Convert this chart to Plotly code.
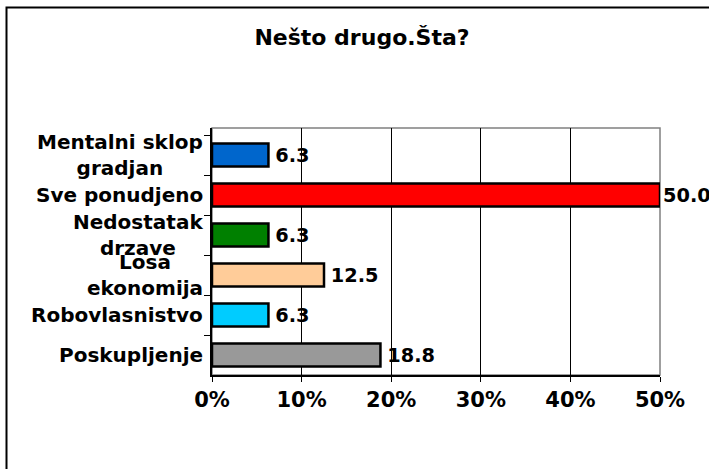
import plotly.graph_objects as go

categories = ["Mentalni sklop<br>gradjan", "Sve ponudjeno", "Nedostatak<br>drzave",
              "Losa<br>ekonomija", "Robovlasnistvo", "Poskupljenje"]
values = [6.3, 50.0, 6.3, 12.5, 6.3, 18.8]
colors = ["#0066CC", "#FF0000", "#008000", "#FFCC99", "#00CCFF", "#999999"]
tick_vals = [0, 10, 20, 30, 40, 50]
tick_text = [f"{t}%" for t in tick_vals]

FONT = "DejaVu Sans"

fig = go.Figure(go.Bar(
    x=values,
    y=categories,
    orientation="h",
    marker=dict(color=colors, line=dict(color="black", width=2.5)),
    text=[f"\u2009{v:.1f}" if v < max(values) else f"{v:.1f}" for v in values],
    textposition="outside",
    textfont=dict(family=FONT, size=20, color="black", weight="bold"),
    cliponaxis=False,
))

# layout in pixels -> paper fractions
W, H = 709, 469
L, R, T, B = 212, 49, 128, 94
pw, ph = W - L - R, H - T - B

fig.update_layout(
    width=W, height=H,
    margin=dict(l=L, r=R, t=T, b=B),
    paper_bgcolor="white",
    plot_bgcolor="white",
    bargap=0.42,
    showlegend=False,
    font=dict(family=FONT, color="black"),
    title=dict(text="<b>Nešto drugo.Šta?</b>", x=362 / W, xanchor="center",
               y=1 - 37 / H, yanchor="middle",
               font=dict(family=FONT, size=22, color="black")),
)

fig.update_xaxes(
    range=[0, 50], tickvals=tick_vals, ticktext=tick_text,
    showgrid=True, gridcolor="black", gridwidth=1,
    showline=True, linecolor="black", linewidth=2,
    ticks="outside", ticklen=5, tickcolor="black", tickwidth=1,
    tickfont=dict(family=FONT, size=21, color="black", weight="bold"),
    zeroline=False,
)
fig.update_yaxes(
    autorange="reversed",
    showline=True, linecolor="black", linewidth=2,
    ticks="outside", ticklen=6, tickcolor="black",
    tickson="boundaries",
    showticklabels=False,
)

# category labels, centred lines like the original
for c in categories:
    fig.add_annotation(x=0, xref="paper", y=c, yref="y", text=f"<b>{c}</b>",
                       xanchor="right", xshift=-7, align="center", showarrow=False,
                       font=dict(family=FONT, size=20, color="black"))

# gray plot-area frame
fig.add_shape(type="rect", xref="paper", yref="paper", x0=0, y0=0, x1=1, y1=1,
              line=dict(color="#808080", width=1.5), layer="below")
# outer chart border (runs off the right/bottom edge)
fig.add_shape(type="rect", xref="paper", yref="paper",
              x0=(6.5 - L) / pw, x1=(W + 10 - L) / pw,
              y0=(H - B - (H + 10)) / ph, y1=(H - B - 7.5) / ph,
              line=dict(color="black", width=2))

fig.write_html("out.html", config={"displayModeBar": False},
               post_script="document.body.style.margin='0';")
